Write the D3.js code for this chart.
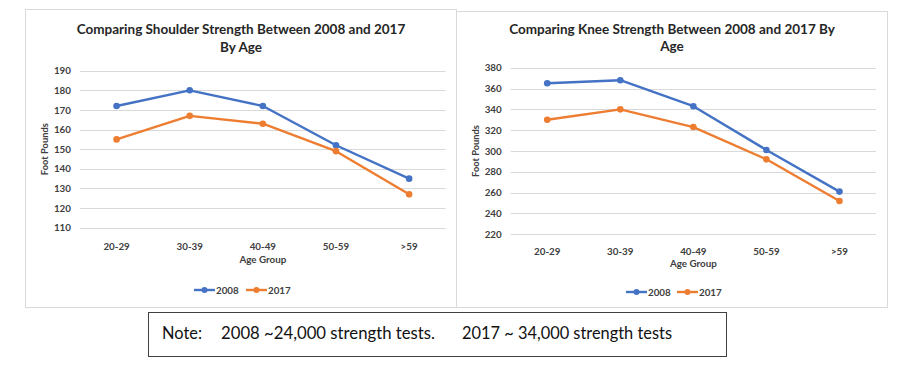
<!DOCTYPE html>
<html><head><meta charset="utf-8">
<script src="https://cdn.jsdelivr.net/npm/d3@7"></script>
<style>
body{margin:0;background:#fff;}
svg{display:block;font-family:Lato,"Open Sans",sans-serif;}
</style></head>
<body><svg id="c" width="920" height="384"></svg>
<script>
const categories = ["20-29","30-39","40-49","50-59",">59"];
const seriesNames = ["2008","2017"];
const shoulder2008 = [172,180,172,152,135];
const shoulder2017 = [155,167,163,149,127];
const knee2008 = [365,368,343,301,261];
const knee2017 = [330,340,323,292,252];
const shoulderTicks = [110,120,130,140,150,160,170,180,190];
const kneeTicks = [220,240,260,280,300,320,340,360,380];
const noteParts = ["Note:","2008 ~24,000 strength tests.","2017 ~ 34,000 strength tests"];

const colors = ["#4472C4","#ED7D31"];
const svg = d3.select("#c");

function drawChart(o){
  const g = svg.append("g");
  g.append("rect").attr("x",o.frame[0]+0.5).attr("y",o.frame[1]+0.5)
    .attr("width",o.frame[2]).attr("height",o.frame[3])
    .attr("fill","#fff").attr("stroke","#d9d9d9");
  o.title.forEach((t,i)=>{
    g.append("text").attr("x",o.titleX).attr("y",o.titleY[i]).attr("text-anchor","middle")
      .attr("font-size",13.5).attr("font-weight","bold").attr("fill","#262626").text(t);
  });
  const x = d3.scaleBand().domain(categories).range([o.px0,o.px1]);
  const y = d3.scaleLinear().domain(o.domain).range([o.py1,o.py0]);
  g.append("g").selectAll("line").data(o.ticks).join("line")
    .attr("x1",o.px0).attr("x2",o.px1)
    .attr("y1",d=>Math.round(y(d))+0.5).attr("y2",d=>Math.round(y(d))+0.5)
    .attr("stroke","#d9d9d9").attr("stroke-width",1);
  const ya = g.append("g").attr("transform",`translate(${o.px0},0)`)
    .call(d3.axisLeft(y).tickValues(o.ticks).tickSize(0).tickPadding(9));
  ya.select(".domain").remove();
  ya.selectAll("text").attr("font-size",9.8).attr("font-weight","bold").attr("fill","#404040")
    .attr("font-family","Lato,sans-serif");
  const xa = g.append("g").attr("transform",`translate(0,${o.py1})`)
    .call(d3.axisBottom(x).tickSize(0).tickPadding(o.xPad));
  xa.select(".domain").remove();
  xa.selectAll("text").attr("font-size",9.8).attr("font-weight","bold").attr("fill","#404040")
    .attr("font-family","Lato,sans-serif");
  g.append("text").attr("x",(o.px0+o.px1)/2).attr("y",o.xTitleY).attr("text-anchor","middle")
    .attr("font-size",9.8).attr("font-weight","bold").attr("fill","#404040").text("Age Group");
  g.append("text").attr("transform",`translate(${o.yTitleX},${(o.py0+o.py1)/2}) rotate(-90)`)
    .attr("text-anchor","middle").attr("font-size",9.3).attr("font-weight","bold").attr("fill","#404040")
    .text("Foot Pounds");
  const line = d3.line().x((d,i)=>x(categories[i])+x.bandwidth()/2).y(d=>y(d));
  o.series.forEach((s,k)=>{
    g.append("path").datum(s).attr("d",line).attr("fill","none")
      .attr("stroke",colors[k]).attr("stroke-width",2.4).attr("stroke-linejoin","round");
    g.append("g").selectAll("circle").data(s).join("circle")
      .attr("cx",(d,i)=>x(categories[i])+x.bandwidth()/2).attr("cy",d=>y(d))
      .attr("r",3.3).attr("fill",colors[k]);
  });
  seriesNames.forEach((n,k)=>{
    const lx = o.legX[k];
    g.append("line").attr("x1",lx).attr("x2",lx+21).attr("y1",o.legY).attr("y2",o.legY)
      .attr("stroke",colors[k]).attr("stroke-width",2.4);
    g.append("circle").attr("cx",lx+10.5).attr("cy",o.legY).attr("r",3).attr("fill",colors[k]);
    g.append("text").attr("x",lx+22).attr("y",o.legY+3.5).attr("font-size",9.8)
      .attr("font-weight","bold").attr("fill","#404040").text(n);
  });
}

drawChart({
  frame:[25,9,431,298],
  title:["Comparing Shoulder Strength Between 2008 and 2017","By Age"],
  titleX:241, titleY:[34,52],
  px0:80, px1:445.7, py0:70.7, py1:227.7,
  domain:[110,190], ticks:shoulderTicks,
  xPad:15, xTitleY:263, yTitleX:48,
  series:[shoulder2008,shoulder2017],
  legX:[194,246], legY:290
});
drawChart({
  frame:[456,11,431,296],
  title:["Comparing Knee Strength Between 2008 and 2017 By","Age"],
  titleX:672, titleY:[34,51],
  px0:510.7, px1:876, py0:67.7, py1:234.3,
  domain:[220,380], ticks:kneeTicks,
  xPad:14, xTitleY:267, yTitleX:479,
  series:[knee2008,knee2017],
  legX:[626,677], legY:292
});

svg.append("rect").attr("x",148.5).attr("y",312.5).attr("width",578).attr("height",44)
  .attr("fill","#fff").attr("stroke","#404040").attr("stroke-width",1);
const noteX = [162,221,462];
const noteW = [40,214,210];
noteParts.forEach((t,i)=>{
  svg.append("text").attr("x",noteX[i]).attr("y",339).attr("font-size",16.5)
    .attr("textLength",noteW[i]).attr("lengthAdjust","spacingAndGlyphs")
    .attr("fill","#111").attr("font-family","Lato,sans-serif").text(t);
});
</script></body></html>
